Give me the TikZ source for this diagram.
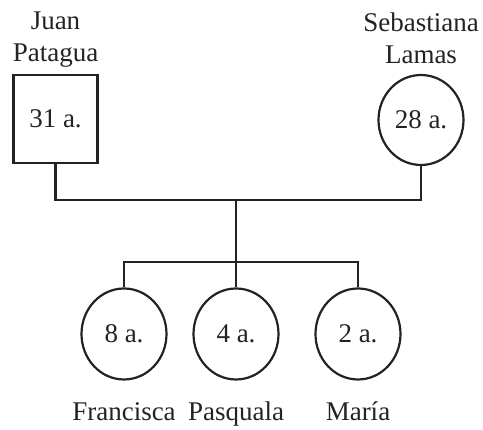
\documentclass[tikz,border=0pt]{standalone}
\usepackage{fontspec}
\setmainfont{Liberation Serif}
\usepackage{tikz}
\usetikzlibrary{shapes.geometric, positioning}
\definecolor{inkgray}{RGB}{35, 35, 35}

\begin{document}
\begin{tikzpicture}[
    x=1pt, y=1pt,
    every node/.style={font=\fontsize{27}{32}\selectfont, text=inkgray},
    male/.style={rectangle, draw=inkgray, line width=2.2pt, minimum width=84pt, minimum height=88pt},
    female/.style={ellipse, draw=inkgray, line width=2.2pt, minimum width=85pt, minimum height=90pt, inner sep=0pt},
    parentname/.style={align=center, inner sep=0pt, text depth=0pt},
    childname/.style={inner sep=0pt, text height=18pt, text depth=6pt},
    link/.style={draw=inkgray, line width=2.2pt}
]
\useasboundingbox (0,0) rectangle (483,430);

% parents
\node[male] (juan) at (55.5,311) {31 a.};
\node[female] (sebastiana) at (421,310) {28 a.};
\node[parentname, above=12pt of juan] (juanname) {Juan\\Patagua};
\node[parentname, above=10pt of sebastiana] (sebastiananame) {Sebastiana\\Lamas};

% children
\node[female, minimum height=91pt] (francisca) at (124,96) {8 a.};
\node[female, minimum height=91pt] (pasquala) at (236,96) {4 a.};
\node[female, minimum height=91pt] (maria) at (358,96) {2 a.};
\node[childname, below=22pt of francisca] (franciscaname) {Francisca};
\node[childname, below=22pt of pasquala] (pasqualaname) {Pasquala};
\node[childname, below=22pt of maria] (marianame) {María};

\coordinate (couple) at (236,230);
\coordinate (siblings) at (236,168);

\draw[link] (juan.south) |- (couple) -| (sebastiana.south);
\draw[link] (couple) -- (siblings);
\draw[link] (francisca.north) |- (siblings) -| (maria.north);
\draw[link] (siblings) -- (pasquala.north);
\end{tikzpicture}
\end{document}
